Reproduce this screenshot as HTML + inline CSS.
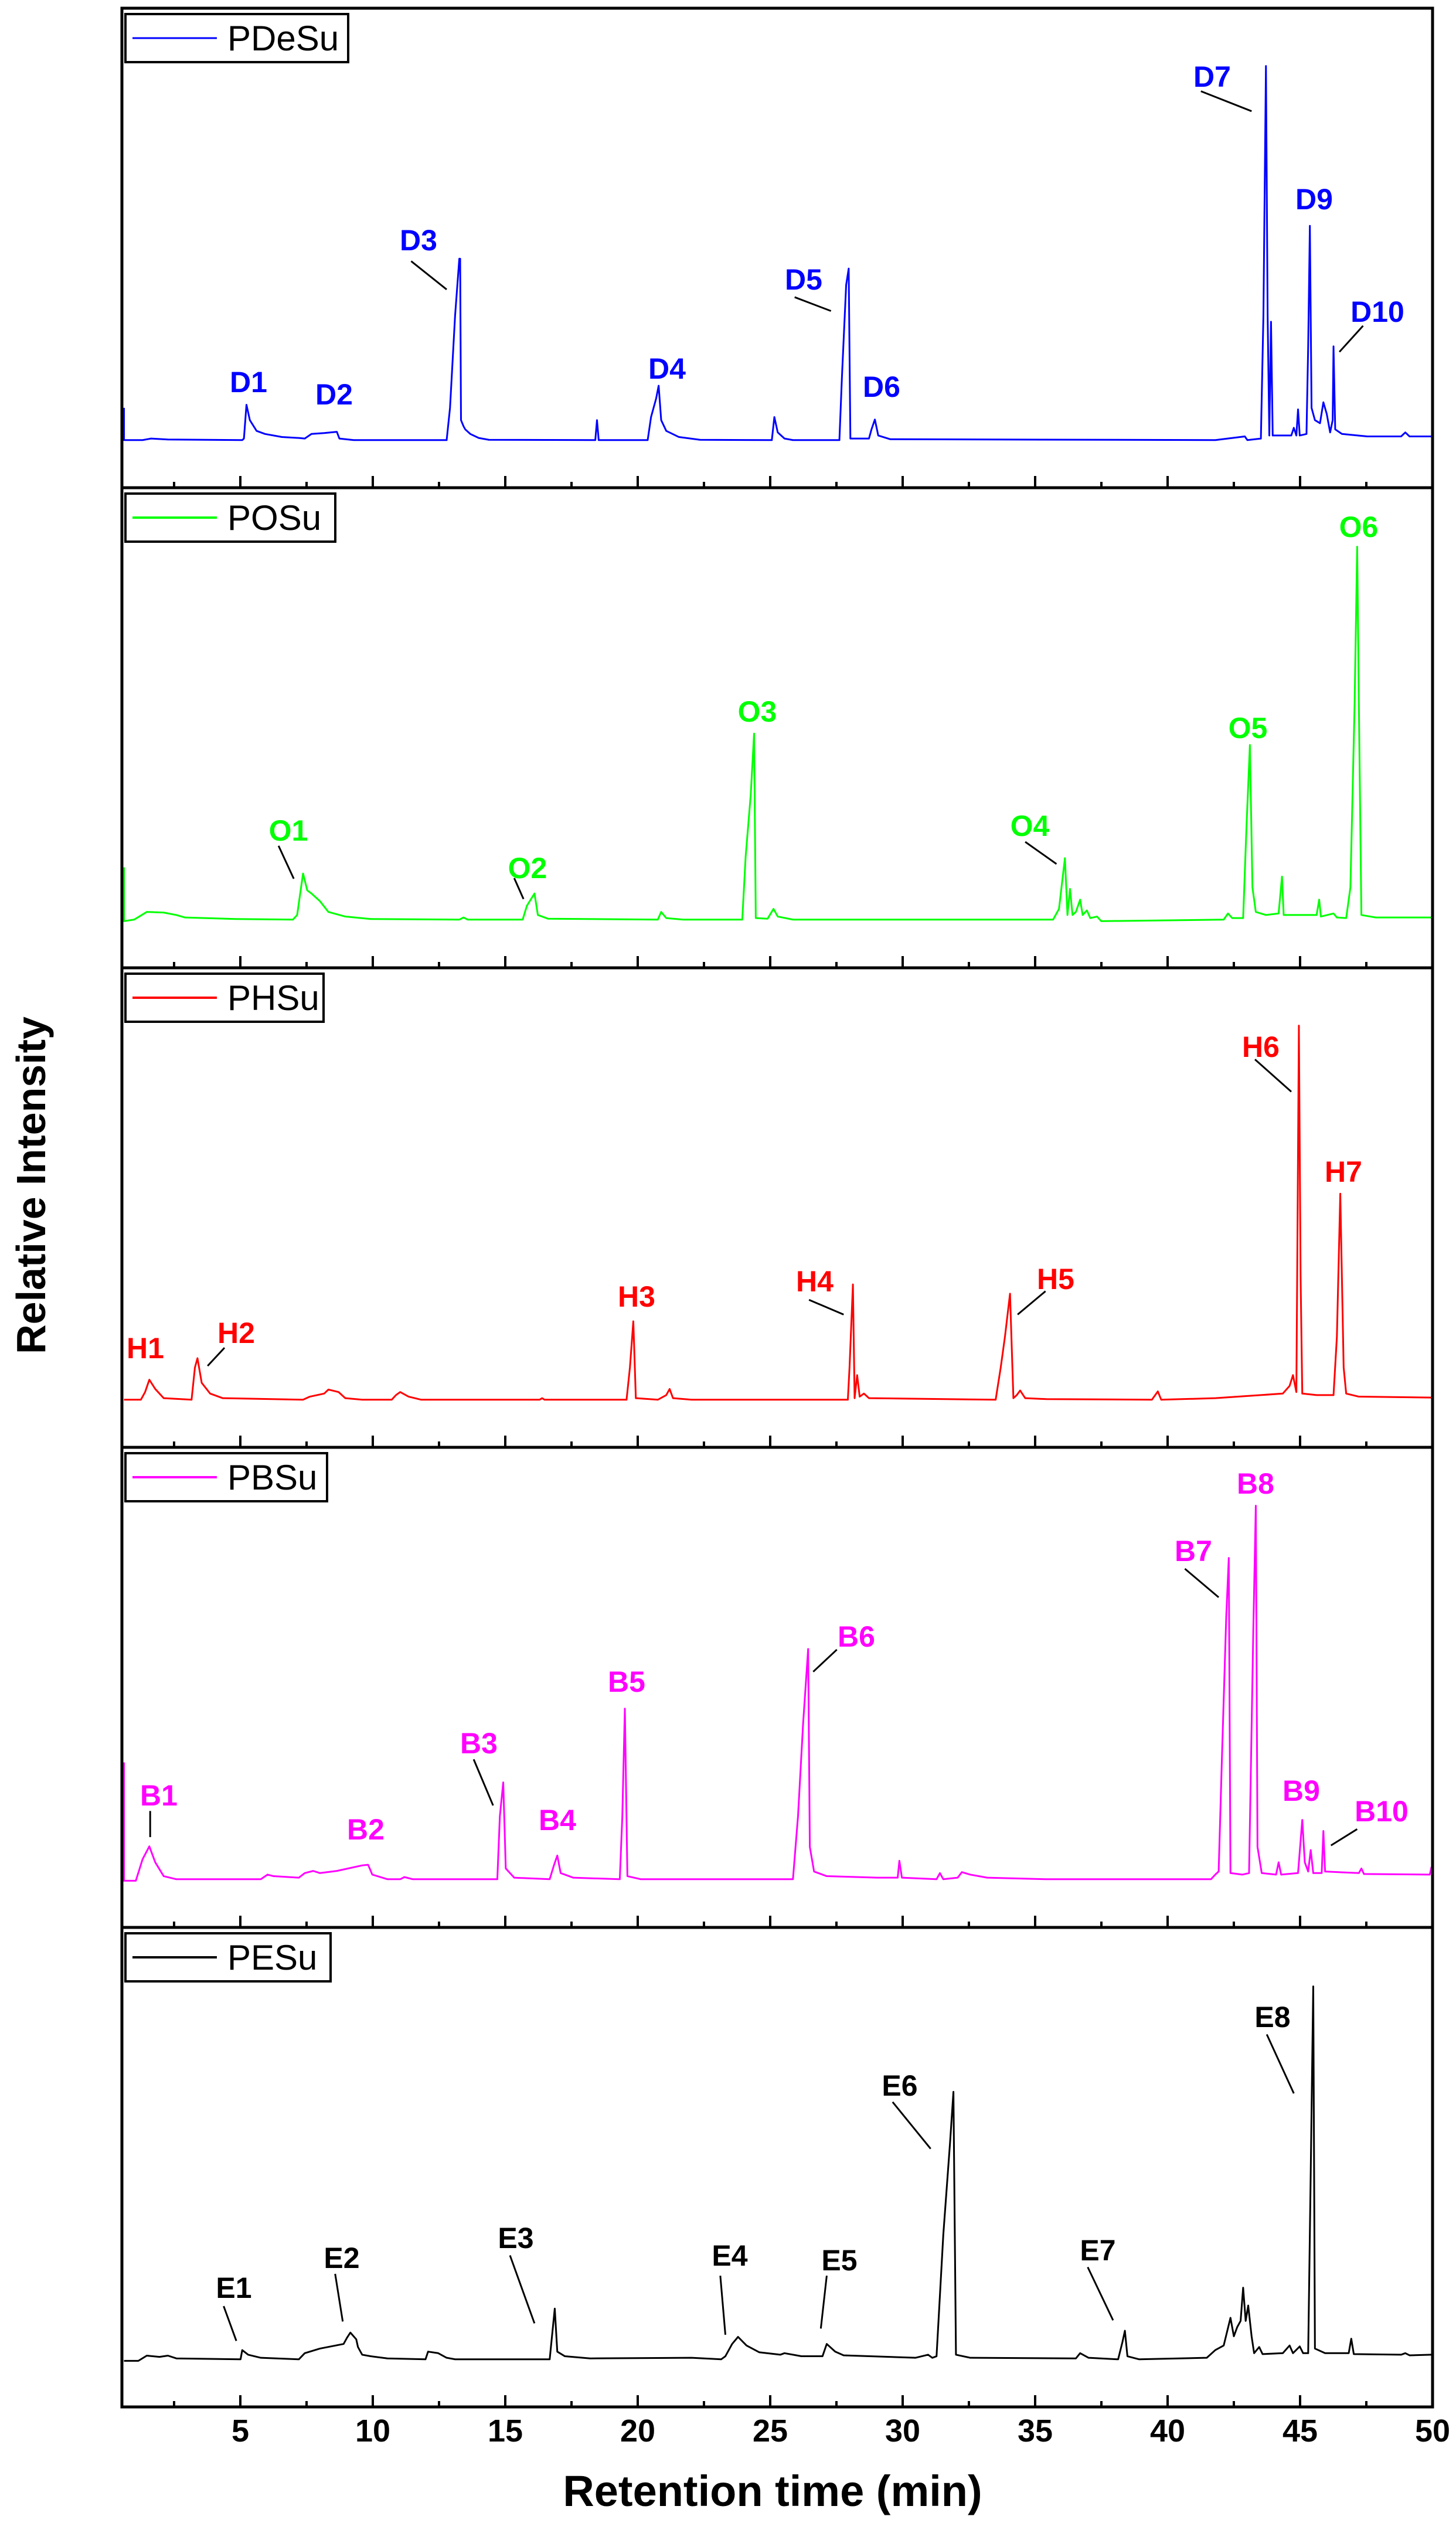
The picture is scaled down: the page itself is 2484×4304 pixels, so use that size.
<!DOCTYPE html>
<html><head><meta charset="utf-8"><style>
html,body{margin:0;padding:0;background:#fff}
svg{display:block}
text{font-family:"Liberation Sans",Arial,sans-serif}
.lb{font-weight:bold;font-size:50px;text-anchor:middle}
.lg{font-size:60px}
.tk{font-weight:bold;font-size:54px;text-anchor:middle}
</style></head><body>
<svg width="2484" height="4304" viewBox="0 0 2484 4304" xmlns="http://www.w3.org/2000/svg">
<rect width="2484" height="4304" fill="#fff"/>

<!-- Panel D -->
<g transform="translate(200,14) scale(1.441,0.5244)" fill="none" stroke-linejoin="round">
<polyline vector-effect="non-scaling-stroke" stroke="#0000ff" stroke-width="3" points="8,1300 8,1405 30,1405 40,1400 60,1403 148,1405 150,1400 153,1290 157,1340 165,1375 175,1385 195,1395 215,1398 222,1400 230,1385 245,1382 260,1378 263,1400 280,1405 390,1405 394,1300 400,1000 405,815 406,815 407,1340 410,1360 412,1370 418,1385 428,1398 440,1404 566,1405 568,1340 570,1405 628,1405 632,1330 638,1270 641,1228 644,1340 650,1375 665,1395 690,1404 775,1405 778,1330 782,1380 790,1400 800,1405 855,1405 858,1200 863,900 866,847 868,1400 890,1400 893,1370 897,1338 901,1390 915,1402 1300,1405 1335,1393 1338,1405 1354,1400 1357,1000 1360,188 1362,1000 1364,1390 1366,1020 1368,1390 1390,1390 1393,1365 1396,1390 1398,1305 1400,1390 1408,1385 1410,1100 1412,708 1414,1300 1418,1340 1424,1350 1428,1282 1432,1320 1436,1380 1439,1340 1440,1100 1442,1370 1450,1385 1480,1393 1520,1393 1525,1380 1530,1393 1556,1393"/>
<line vector-effect="non-scaling-stroke" stroke="#000" stroke-width="3" x1="348" y1="823" x2="390" y2="915"/>
<line vector-effect="non-scaling-stroke" stroke="#000" stroke-width="3" x1="802" y1="940" x2="845" y2="985"/>
<line vector-effect="non-scaling-stroke" stroke="#000" stroke-width="3" x1="1283" y1="270" x2="1343" y2="335"/>
<line vector-effect="non-scaling-stroke" stroke="#000" stroke-width="3" x1="1475" y1="1033" x2="1447" y2="1118"/>
</g>
<g fill="#0000ff">
<text x="424" y="669" class="lb">D1</text><text x="570" y="690" class="lb">D2</text>
<text x="714" y="427" class="lb">D3</text><text x="1138" y="646" class="lb">D4</text>
<text x="1371" y="494" class="lb">D5</text><text x="1504" y="677" class="lb">D6</text>
<text x="2068" y="148" class="lb">D7</text><text x="2242" y="357" class="lb">D9</text>
<text x="2350" y="549" class="lb">D10</text></g>

<!-- Panel O -->
<g transform="translate(200,832) scale(1.441,0.5244)" fill="none" stroke-linejoin="round">
<polyline vector-effect="non-scaling-stroke" stroke="#00ff00" stroke-width="3" points="8,1235 8,1410 20,1405 35,1380 55,1382 70,1390 80,1398 140,1403 208,1405 213,1390 220,1255 225,1310 230,1320 240,1345 250,1380 270,1395 300,1403 405,1405 410,1398 415,1405 480,1405 485,1360 494,1320 498,1390 510,1402 640,1405 644,1380 650,1400 670,1405 740,1405 744,1200 750,1000 754,800 756,1400 770,1402 777,1370 782,1395 800,1405 1108,1405 1115,1370 1122,1205 1125,1390 1128,1305 1131,1390 1135,1380 1140,1340 1143,1390 1148,1375 1152,1400 1160,1395 1165,1410 1310,1405 1315,1385 1320,1400 1333,1400 1337,1100 1341,837 1344,1300 1348,1380 1360,1390 1375,1385 1379,1265 1381,1390 1420,1390 1423,1340 1425,1395 1440,1385 1444,1398 1455,1400 1460,1300 1465,700 1468,192 1470,700 1473,1390 1490,1398 1556,1398"/>
<line vector-effect="non-scaling-stroke" stroke="#000" stroke-width="3" x1="191" y1="1165" x2="209" y2="1272"/>
<line vector-effect="non-scaling-stroke" stroke="#000" stroke-width="3" x1="470" y1="1270" x2="481" y2="1338"/>
<line vector-effect="non-scaling-stroke" stroke="#000" stroke-width="3" x1="1075" y1="1152" x2="1112" y2="1224"/>
</g>
<g fill="#00ff00">
<text x="492" y="1434" class="lb">O1</text><text x="900" y="1498" class="lb">O2</text>
<text x="1292" y="1231" class="lb">O3</text><text x="1757" y="1426" class="lb">O4</text>
<text x="2129" y="1259" class="lb">O5</text><text x="2318" y="916" class="lb">O6</text></g>

<!-- Panel H -->
<g transform="translate(200,1651) scale(1.441,0.5244)" fill="none" stroke-linejoin="round">
<polyline vector-effect="non-scaling-stroke" stroke="#ff0000" stroke-width="3" points="8,1405 28,1405 33,1380 38,1340 45,1370 55,1400 88,1405 92,1300 95,1270 100,1350 110,1385 125,1400 220,1405 228,1395 245,1385 250,1372 262,1380 270,1400 290,1405 325,1405 330,1390 335,1380 345,1395 360,1405 500,1405 503,1400 506,1405 603,1405 607,1300 611,1150 614,1400 640,1405 650,1390 654,1370 658,1400 680,1405 865,1405 867,1300 871,1030 873,1400 876,1325 879,1395 884,1385 890,1400 1040,1405 1046,1300 1051,1200 1057,1060 1061,1400 1065,1390 1069,1375 1075,1400 1100,1403 1225,1405 1232,1378 1236,1405 1300,1400 1380,1385 1388,1360 1392,1325 1396,1380 1397,1000 1399,188 1401,1000 1403,1385 1420,1390 1440,1390 1444,1200 1448,735 1452,1300 1455,1385 1470,1395 1556,1398"/>
<line vector-effect="non-scaling-stroke" stroke="#000" stroke-width="3" x1="127" y1="1236" x2="107" y2="1295"/>
<line vector-effect="non-scaling-stroke" stroke="#000" stroke-width="3" x1="819" y1="1080" x2="860" y2="1128"/>
<line vector-effect="non-scaling-stroke" stroke="#000" stroke-width="3" x1="1099" y1="1052" x2="1066" y2="1128"/>
<line vector-effect="non-scaling-stroke" stroke="#000" stroke-width="3" x1="1347" y1="298" x2="1390" y2="403"/>
</g>
<g fill="#ff0000">
<text x="248" y="2317" class="lb">H1</text><text x="403" y="2291" class="lb">H2</text>
<text x="1086" y="2229" class="lb">H3</text><text x="1390" y="2203" class="lb">H4</text>
<text x="1801" y="2199" class="lb">H5</text><text x="2151" y="1803" class="lb">H6</text>
<text x="2292" y="2016" class="lb">H7</text></g>

<!-- Panel B -->
<g transform="translate(200,2469) scale(1.441,0.5244)" fill="none" stroke-linejoin="round">
<polyline vector-effect="non-scaling-stroke" stroke="#ff00ff" stroke-width="3" points="8,1025 8,1410 22,1410 30,1340 38,1298 45,1350 55,1395 70,1405 170,1405 178,1390 185,1395 215,1400 222,1385 232,1378 240,1385 260,1378 290,1360 297,1358 302,1390 320,1405 335,1405 340,1398 350,1405 450,1405 453,1200 457,1090 460,1370 470,1400 512,1405 517,1360 521,1328 525,1385 540,1400 595,1405 598,1200 601,850 604,1395 620,1405 800,1405 806,1200 812,900 818,656 820,1300 825,1380 840,1395 900,1400 924,1400 926,1345 929,1400 970,1405 974,1385 978,1405 995,1400 1000,1382 1010,1390 1030,1400 1100,1405 1295,1405 1300,1390 1304,1380 1308,1000 1313,550 1316,360 1318,1385 1332,1390 1340,1385 1345,600 1348,190 1350,1300 1355,1385 1372,1390 1375,1350 1378,1390 1398,1385 1403,1212 1406,1350 1410,1380 1413,1310 1416,1385 1426,1385 1428,1248 1430,1380 1470,1385 1473,1370 1476,1388 1554,1390 1556,1365"/>
<line vector-effect="non-scaling-stroke" stroke="#000" stroke-width="3" x1="39" y1="1183" x2="39" y2="1268"/>
<line vector-effect="non-scaling-stroke" stroke="#000" stroke-width="3" x1="422" y1="1015" x2="445" y2="1165"/>
<line vector-effect="non-scaling-stroke" stroke="#000" stroke-width="3" x1="852" y1="658" x2="824" y2="730"/>
<line vector-effect="non-scaling-stroke" stroke="#000" stroke-width="3" x1="1264" y1="395" x2="1304" y2="488"/>
<line vector-effect="non-scaling-stroke" stroke="#000" stroke-width="3" x1="1468" y1="1242" x2="1437" y2="1295"/>
</g>
<g fill="#ff00ff">
<text x="271" y="3080" class="lb">B1</text><text x="624" y="3138" class="lb">B2</text>
<text x="817" y="2991" class="lb">B3</text><text x="951" y="3122" class="lb">B4</text>
<text x="1069" y="2886" class="lb">B5</text><text x="1461" y="2809" class="lb">B6</text>
<text x="2036" y="2663" class="lb">B7</text><text x="2142" y="2548" class="lb">B8</text>
<text x="2220" y="3072" class="lb">B9</text><text x="2357" y="3107" class="lb">B10</text></g>

<!-- Panel E -->
<g transform="translate(200,3288) scale(1.441,0.5244)" fill="none" stroke-linejoin="round">
<polyline vector-effect="non-scaling-stroke" stroke="#000" stroke-width="3" points="8,1410 25,1410 35,1393 50,1397 60,1393 70,1402 146,1405 148,1375 155,1390 170,1400 215,1405 222,1385 240,1370 268,1355 272,1335 276,1318 283,1340 285,1365 290,1390 300,1395 320,1402 365,1405 368,1380 380,1385 390,1400 400,1405 512,1405 518,1240 521,1380 530,1395 560,1402 680,1400 715,1405 720,1395 728,1355 735,1332 745,1360 760,1382 785,1390 790,1385 810,1395 835,1395 840,1355 850,1380 860,1392 945,1400 960,1390 965,1400 970,1395 978,1000 986,700 990,535 993,1390 1010,1400 1135,1402 1140,1385 1150,1400 1185,1405 1190,1350 1193,1312 1196,1395 1210,1405 1290,1400 1300,1375 1310,1360 1318,1270 1322,1330 1326,1300 1330,1280 1333,1172 1336,1280 1339,1230 1343,1330 1346,1385 1352,1365 1356,1388 1380,1385 1388,1360 1392,1385 1400,1363 1404,1385 1410,1385 1413,800 1416,192 1418,1370 1430,1385 1458,1385 1461,1338 1464,1388 1520,1390 1525,1385 1530,1392 1556,1390"/>
<line vector-effect="non-scaling-stroke" stroke="#000" stroke-width="3" x1="126" y1="1232" x2="141" y2="1345"/>
<line vector-effect="non-scaling-stroke" stroke="#000" stroke-width="3" x1="258" y1="1127" x2="267" y2="1282"/>
<line vector-effect="non-scaling-stroke" stroke="#000" stroke-width="3" x1="465" y1="1067" x2="494" y2="1288"/>
<line vector-effect="non-scaling-stroke" stroke="#000" stroke-width="3" x1="714" y1="1133" x2="720" y2="1325"/>
<line vector-effect="non-scaling-stroke" stroke="#000" stroke-width="3" x1="840" y1="1133" x2="833" y2="1305"/>
<line vector-effect="non-scaling-stroke" stroke="#000" stroke-width="3" x1="918" y1="568" x2="963" y2="720"/>
<line vector-effect="non-scaling-stroke" stroke="#000" stroke-width="3" x1="1149" y1="1105" x2="1179" y2="1278"/>
<line vector-effect="non-scaling-stroke" stroke="#000" stroke-width="3" x1="1361" y1="348" x2="1393" y2="540"/>
</g>
<g fill="#000">
<text x="399" y="3920" class="lb">E1</text><text x="583" y="3869" class="lb">E2</text>
<text x="880" y="3835" class="lb">E3</text><text x="1245" y="3865" class="lb">E4</text>
<text x="1432" y="3873" class="lb">E5</text><text x="1535" y="3575" class="lb">E6</text>
<text x="1873" y="3856" class="lb">E7</text><text x="2171" y="3458" class="lb">E8</text></g>

<!-- Legends -->
<g stroke="#000" stroke-width="4" fill="#fff">
<rect x="214" y="24" width="380" height="82"/>
<rect x="214" y="842" width="358" height="82"/>
<rect x="214" y="1661" width="338" height="82"/>
<rect x="214" y="2479" width="344" height="82"/>
<rect x="214" y="3298" width="350" height="82"/>
</g>
<line x1="226" y1="65" x2="370" y2="65" stroke="#0000ff" stroke-width="3"/>
<line x1="226" y1="883" x2="370" y2="883" stroke="#00ff00" stroke-width="4"/>
<line x1="226" y1="1702" x2="370" y2="1702" stroke="#ff0000" stroke-width="4"/>
<line x1="226" y1="2520" x2="370" y2="2520" stroke="#ff00ff" stroke-width="4"/>
<line x1="226" y1="3339" x2="370" y2="3339" stroke="#000" stroke-width="4"/>
<text x="388" y="86" class="lg">PDeSu</text>
<text x="388" y="904" class="lg">POSu</text>
<text x="388" y="1723" class="lg">PHSu</text>
<text x="388" y="2541" class="lg">PBSu</text>
<text x="388" y="3360" class="lg">PESu</text>

<!-- Frames -->
<g fill="none" stroke="#000" stroke-width="5">
<rect x="208" y="14" width="2236" height="818"/>
<rect x="208" y="832" width="2236" height="819"/>
<rect x="208" y="1651" width="2236" height="818"/>
<rect x="208" y="2469" width="2236" height="819"/>
<rect x="208" y="3288" width="2236" height="818"/>
</g>
<!-- Ticks -->
<g stroke="#000" stroke-width="4">
<path d="M410,832v-20M636,832v-20M862,832v-20M1088,832v-20M1314,832v-20M1540,832v-20M1766,832v-20M1992,832v-20M2218,832v-20
M297,832v-10M523,832v-10M749,832v-10M975,832v-10M1201,832v-10M1427,832v-10M1653,832v-10M1879,832v-10M2105,832v-10M2331,832v-10
M410,1651v-20M636,1651v-20M862,1651v-20M1088,1651v-20M1314,1651v-20M1540,1651v-20M1766,1651v-20M1992,1651v-20M2218,1651v-20
M297,1651v-10M523,1651v-10M749,1651v-10M975,1651v-10M1201,1651v-10M1427,1651v-10M1653,1651v-10M1879,1651v-10M2105,1651v-10M2331,1651v-10
M410,2469v-20M636,2469v-20M862,2469v-20M1088,2469v-20M1314,2469v-20M1540,2469v-20M1766,2469v-20M1992,2469v-20M2218,2469v-20
M297,2469v-10M523,2469v-10M749,2469v-10M975,2469v-10M1201,2469v-10M1427,2469v-10M1653,2469v-10M1879,2469v-10M2105,2469v-10M2331,2469v-10
M410,3288v-20M636,3288v-20M862,3288v-20M1088,3288v-20M1314,3288v-20M1540,3288v-20M1766,3288v-20M1992,3288v-20M2218,3288v-20
M297,3288v-10M523,3288v-10M749,3288v-10M975,3288v-10M1201,3288v-10M1427,3288v-10M1653,3288v-10M1879,3288v-10M2105,3288v-10M2331,3288v-10
M410,4106v-20M636,4106v-20M862,4106v-20M1088,4106v-20M1314,4106v-20M1540,4106v-20M1766,4106v-20M1992,4106v-20M2218,4106v-20
M297,4106v-10M523,4106v-10M749,4106v-10M975,4106v-10M1201,4106v-10M1427,4106v-10M1653,4106v-10M1879,4106v-10M2105,4106v-10M2331,4106v-10"/>
</g>
<g>
<text x="410" y="4165" class="tk">5</text><text x="636" y="4165" class="tk">10</text>
<text x="862" y="4165" class="tk">15</text><text x="1088" y="4165" class="tk">20</text>
<text x="1314" y="4165" class="tk">25</text><text x="1540" y="4165" class="tk">30</text>
<text x="1766" y="4165" class="tk">35</text><text x="1992" y="4165" class="tk">40</text>
<text x="2218" y="4165" class="tk">45</text><text x="2444" y="4165" class="tk">50</text>
</g>
<text x="1318" y="4275" text-anchor="middle" font-weight="bold" font-size="74">Retention time (min)</text>
<text transform="translate(77,2022) rotate(-90)" text-anchor="middle" font-weight="bold" font-size="70">Relative Intensity</text>
</svg>
</body></html>
